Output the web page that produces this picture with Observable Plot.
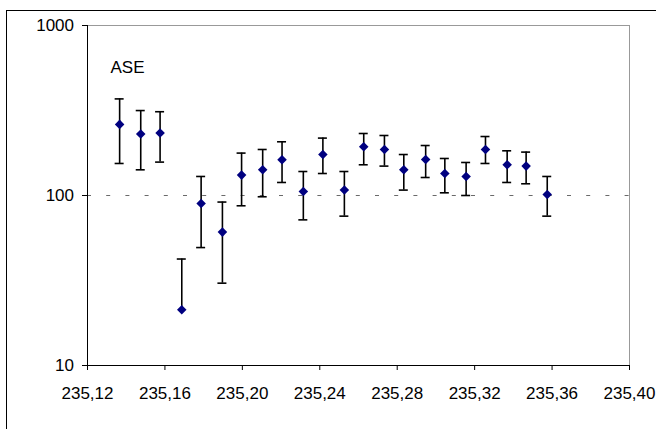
<!DOCTYPE html>
<html><head><meta charset="utf-8">
<script src="https://cdn.jsdelivr.net/npm/d3@7"></script>
<script src="https://cdn.jsdelivr.net/npm/@observablehq/plot@0.6"></script>
<style>
html,body{margin:0;padding:0;background:#fff;overflow:hidden;}
#wrap{position:relative;width:656px;height:429px;overflow:hidden;}
#border{position:absolute;left:6px;top:10px;width:700px;height:500px;border:1px solid #000;pointer-events:none;}
</style></head><body>
<div id="wrap"><div id="border"></div></div>
<script>
const xPos = [235.1366, 235.1475, 235.1575, 235.1687, 235.1787, 235.1897, 235.1996, 235.2105, 235.2205, 235.2315, 235.2416, 235.2527, 235.2627, 235.2734, 235.2834, 235.2947, 235.3046, 235.3156, 235.3256, 235.3368, 235.3466, 235.3575];
const ase = [262, 230, 233, 21.3, 89.7, 60.9, 131.8, 141.6, 162.2, 105.6, 174.2, 107.6, 193.4, 186.5, 141.6, 163, 134.7, 129.4, 186.5, 151.6, 148.9, 101.4];
const upper = [370, 316, 311, 42.3, 129.4, 91.5, 177.6, 186.5, 207, 138.4, 217.6, 138.4, 231.6, 225.4, 174.2, 196.8, 165.1, 156.4, 222.3, 183.2, 180, 129.4];
const lower = [154.3, 141.6, 157.2, null, 49.4, 30.5, 87.0, 98.3, 119.3, 71.9, 134.7, 75.6, 151.6, 148.9, 107.6, 127.6, 103.7, 100, 154.3, 119.3, 117.2, 75.6];
const xTicks = [235.12, 235.16, 235.20, 235.24, 235.28, 235.32, 235.36, 235.40];
const yTicks = [10, 100, 1000];
const refLine = [100];
const seriesLabel = "ASE";

const data = xPos.map((x, i) => ({x, v: ase[i], hi: upper[i], lo: lower[i]}));
const fmtX = d => d3.format(".2f")(d).replace(".", ",");

const chart = Plot.plot({
  width: 656, height: 429,
  marginLeft: 87, marginRight: 27, marginTop: 25, marginBottom: 64,
  style: {fontFamily: '"Liberation Sans", Arial, sans-serif', fontSize: "17px", background: "transparent", color: "#000"},
  x: {domain: [235.12, 235.40]},
  y: {type: "log", domain: [10, 1000]},
  marks: [
    Plot.frame({stroke: "#999"}),
    Plot.ruleY(refLine, {stroke: "#6a6a6a", strokeDasharray: "4,15.2"}),
    Plot.ruleX([xTicks[0]], {stroke: "#000"}),
    Plot.ruleY([yTicks[0]], {stroke: "#000"}),
    Plot.axisX({ticks: xTicks, tickFormat: fmtX, tickSize: 5, tickPadding: 16.5, label: null}),
    Plot.axisY({ticks: yTicks, tickFormat: d => String(d), tickSize: 5, tickPadding: 8.5, label: null}),
    Plot.ruleX(data, {x: "x", y1: d => d.lo ?? d.v, y2: "hi", stroke: "#000", strokeWidth: 1.6}),
    Plot.ruleY(data, {x1: "x", x2: "x", y: "hi", insetLeft: -4.5, insetRight: -4.5, stroke: "#000", strokeWidth: 1.6}),
    Plot.ruleY(data.filter(d => d.lo != null), {x1: "x", x2: "x", y: "lo", insetLeft: -4.5, insetRight: -4.5, stroke: "#000", strokeWidth: 1.6}),
    Plot.dot(data, {x: "x", y: "v", symbol: "diamond2", r: 4.3, fill: "#000080"}),
    Plot.text([seriesLabel], {frameAnchor: "top-left", dx: 23, dy: 35, text: d => d, textAnchor: "start", fill: "#000"})
  ]
});
document.getElementById("wrap").prepend(chart);
</script>
</body></html>
